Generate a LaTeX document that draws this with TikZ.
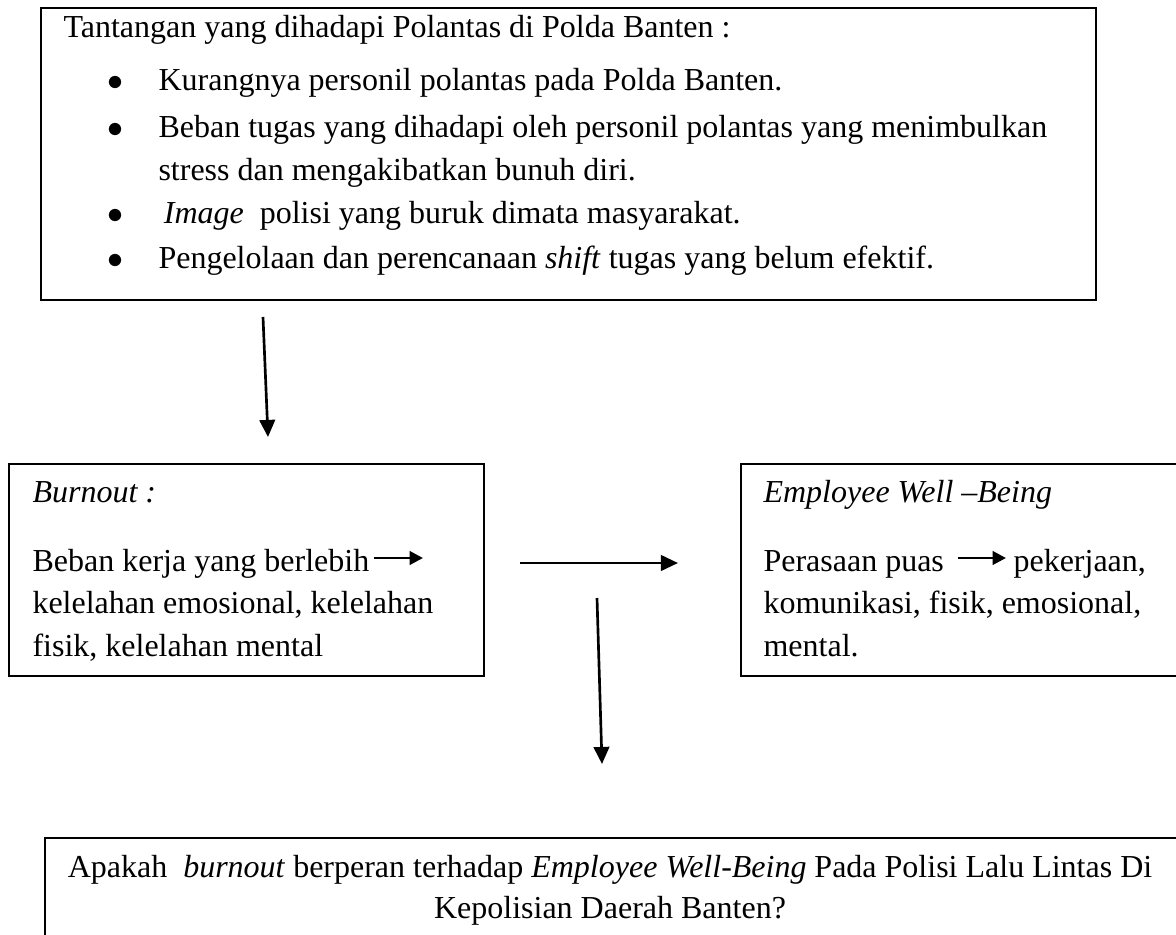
\documentclass[tikz,border=0pt]{standalone}
\usepackage{fontspec}
\setmainfont{Liberation Serif}
\usetikzlibrary{arrows.meta, calc}

\tikzset{
  box/.style={draw, line width=0.75pt, anchor=north west, inner sep=0pt},
  txt/.style={anchor=base west, inner sep=0pt, font=\fontsize{12}{14}\selectfont},
  mid/.style={anchor=base, inner sep=0pt, font=\fontsize{12}{14}\selectfont},
  flow/.style={line width=1pt, -{Triangle[length=6.4pt, width=5.8pt]}},
  inarrow/.style={line width=1.1pt, -{Triangle[length=5pt, width=5pt]}},
}

\begin{document}
\begin{tikzpicture}[x=0.375pt, y=-0.375pt]

  \clip (0, 0) rectangle (1176, 934);

  % boxes
  \node[box, minimum width=395.6pt, minimum height=109.5pt] (tantangan) at (40, 7) {};
  \node[box, minimum width=178.1pt, minimum height=79.5pt] (burnout) at (8, 463) {};
  \node[box, minimum width=165pt, minimum height=79.5pt] (wellbeing) at (740, 463) {};
  \node[box, minimum width=424.5pt, minimum height=45pt] (question) at (44, 837) {};

  % top box
  \node[txt] (head) at (63, 38) {Tantangan yang dihadapi Polantas di Polda Banten :};
  \foreach \y/\txt [count=\n] in {91/{Kurangnya personil polantas pada Polda Banten.},
                                  137/{Beban tugas yang dihadapi oleh personil polantas yang menimbulkan},
                                  223/{\,\textit{Image}\ \ polisi yang buruk dimata masyarakat.},
                                  268/{Pengelolaan dan perencanaan \textit{shift} tugas yang belum efektif.}} {
    \node[mid] (dot\n) at (115, \y) {$\bullet$};
    \node[txt] (item\n) at (158, \y) {\txt};
  }
  \node[txt] (item2b) at (158, 180) {stress dan mengakibatkan bunuh diri.};

  % burnout box
  \node[txt] (bhead) at (32, 502) {\textit{Burnout :}};
  \node[txt] (b1) at (32, 571) {Beban kerja yang berlebih};
  \node[txt] (b2) at (32, 613) {kelelahan emosional, kelelahan};
  \node[txt] (b3) at (32, 656) {fisik, kelelahan mental};
  \coordinate (ba) at (374, 558);
  \coordinate (bb) at (423, 558);
  \draw[inarrow] (ba) -- (bb);

  % well-being box
  \node[txt] (whead) at (763, 502) {\textit{Employee Well –Being}};
  \node[txt] (w1) at (763, 571) {Perasaan puas};
  \node[txt] (w1b) at (1013, 571) {pekerjaan,};
  \node[txt] (w2) at (763, 613) {komunikasi, fisik, emosional,};
  \node[txt] (w3) at (763, 656) {mental.};
  \coordinate (wa) at (958, 558);
  \coordinate (wb) at (1006, 558);
  \draw[inarrow] (wa) -- (wb);

  % question box
  \node[mid] (q1) at (610, 877) {Apakah \ \textit{burnout} berperan terhadap \textit{Employee Well-Being} Pada Polisi Lalu Lintas Di};
  \node[mid] (q2) at (610, 918) {Kepolisian Daerah Banten?};

  % arrows
  \coordinate (a1) at (263, 317);
  \coordinate (a2) at (268, 437);
  \coordinate (h1) at (520, 563);
  \coordinate (h2) at (678, 563);
  \coordinate (d1) at (597, 598);
  \coordinate (d2) at (602, 764);
  \draw[flow] (a1) -- (a2);
  \draw[flow] (h1) -- (h2);
  \draw[flow] (d1) -- (d2);

\end{tikzpicture}
\end{document}
